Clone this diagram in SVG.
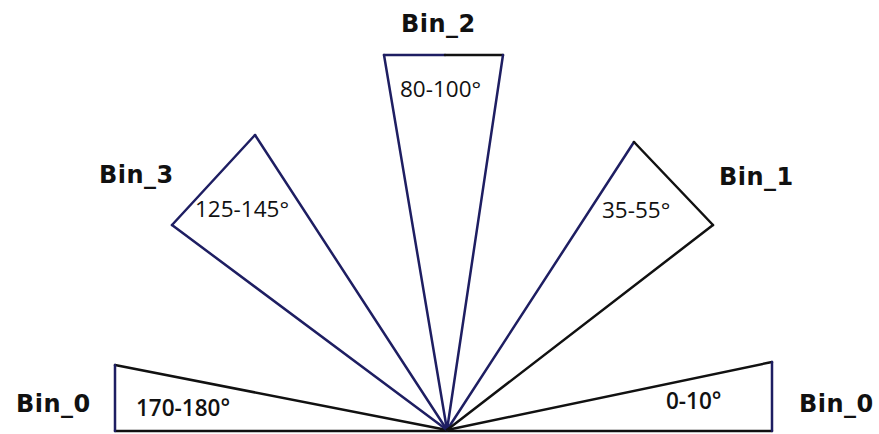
<svg xmlns="http://www.w3.org/2000/svg" width="879" height="434" viewBox="0 0 879 434">
<style>
.w{fill:none;stroke-width:2.5;stroke-linejoin:miter;stroke-linecap:round}
.n{stroke:#1e1e62}
.k{stroke:#111111}
.bin{font-family:"DejaVu Sans",Verdana,sans-serif;font-weight:bold;font-size:24px;letter-spacing:0.5px;fill:#111}
.ang{font-family:"Open Sans","DejaVu Sans",sans-serif;font-size:22.5px;fill:#111}
.b6{font-weight:600}
</style>
<rect width="879" height="434" fill="#ffffff"/>
<g id="connectors">
<line class="w k" x1="115" y1="431" x2="772" y2="431"/>
</g>
<g id="bin0-left">
<line class="w k" x1="447" y1="430" x2="115" y2="365"/>
<line class="w n" x1="115" y1="365" x2="115" y2="431"/>
<text class="ang b6" x="136" y="416">170-180°</text>
<text class="bin" x="16" y="412">Bin_0</text>
</g>
<g id="bin3">
<line class="w n" x1="447" y1="430" x2="255" y2="135"/>
<line class="w n" x1="255" y1="135" x2="172" y2="225"/>
<line class="w n" x1="172" y1="225" x2="447" y2="430"/>
<text class="ang" x="195" y="217">125-145°</text>
<text class="bin" x="99" y="183">Bin_3</text>
</g>
<g id="bin2">
<line class="w n" x1="447" y1="430" x2="384" y2="55"/>
<line class="w n" x1="384" y1="55" x2="445" y2="55"/>
<line class="w k" x1="445" y1="55" x2="503" y2="55"/>
<line class="w n" x1="503" y1="55" x2="447" y2="430"/>
<text class="ang" x="400" y="97">80-100°</text>
<text class="bin" x="401" y="32">Bin_2</text>
</g>
<g id="bin1">
<line class="w n" x1="447" y1="430" x2="634" y2="142"/>
<line class="w k" x1="634" y1="142" x2="713" y2="225"/>
<line class="w k" x1="713" y1="225" x2="447" y2="430"/>
<text class="ang" x="602" y="218">35-55°</text>
<text class="bin" x="719" y="185">Bin_1</text>
</g>
<g id="bin0-right">
<line class="w k" x1="447" y1="430" x2="772" y2="362"/>
<line class="w n" x1="772" y1="362" x2="772" y2="431"/>
<text class="ang b6" x="666" y="409">0-10°</text>
<text class="bin" x="799" y="412">Bin_0</text>
</g>
</svg>
